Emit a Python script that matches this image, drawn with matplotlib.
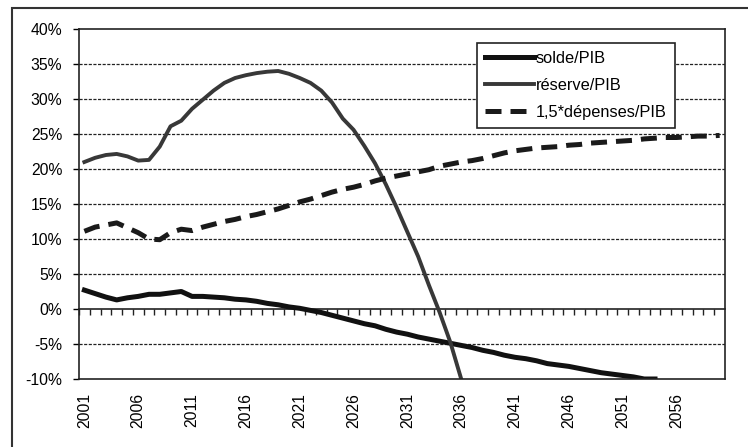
import matplotlib
matplotlib.use('Agg')
import matplotlib.pyplot as plt
from matplotlib.patches import Rectangle

plt.rcParams['font.family'] = ['Liberation Sans', 'DejaVu Sans']

# annees et series (en % du PIB)
annees_solde = list(range(2001, 2055))
solde = [2.7, 2.2, 1.7, 1.3, 1.6, 1.8, 2.1, 2.1, 2.3, 2.5,
         1.8, 1.8, 1.7, 1.6, 1.4, 1.3, 1.1, 0.8, 0.6, 0.3,
         0.1, -0.2, -0.5, -0.9, -1.3, -1.7, -2.1, -2.4, -2.9, -3.3,
         -3.6, -4.0, -4.3, -4.6, -4.9, -5.2, -5.5, -5.9, -6.2, -6.6,
         -6.9, -7.1, -7.4, -7.8, -8.0, -8.2, -8.5, -8.8, -9.1, -9.3,
         -9.5, -9.7, -10.0, -10.0]

annees_reserve = list(range(2001, 2037))
reserve = [21.0, 21.6, 22.0, 22.15, 21.8, 21.2, 21.3, 23.2, 26.1, 26.9,
           28.6, 29.9, 31.2, 32.3, 33.0, 33.4, 33.7, 33.9, 34.0, 33.6,
           33.0, 32.3, 31.2, 29.5, 27.2, 25.6, 23.3, 20.8, 17.8, 14.5,
           11.0, 7.5, 3.4, -0.5, -4.8, -10.0]

annees_dep = list(range(2001, 2061))
depenses = [11.1, 11.7, 12.0, 12.3, 11.6, 10.9, 10.0, 9.9, 10.9, 11.4,
            11.2, 11.7, 12.1, 12.5, 12.8, 13.2, 13.5, 13.9, 14.3, 14.8,
            15.3, 15.7, 16.2, 16.7, 17.1, 17.4, 17.8, 18.3, 18.7, 19.0,
            19.3, 19.6, 19.9, 20.4, 20.7, 21.0, 21.2, 21.5, 21.9, 22.3,
            22.6, 22.8, 23.0, 23.1, 23.2, 23.4, 23.5, 23.7, 23.8, 23.9,
            24.0, 24.1, 24.3, 24.4, 24.5, 24.5, 24.6, 24.7, 24.7, 24.8]

annees_labels = list(range(2001, 2060, 5))
y_ticks = list(range(-10, 45, 5))

fig = plt.figure(figsize=(7.48, 4.47), dpi=100)
ax = fig.add_axes([79/748, 1-379/447, 646/748, 350/447])

# cadre exterieur (coupe a droite et en bas)
fig.patches.append(Rectangle((12/748, -0.2), 1.2, 1.2 - 8/447, transform=fig.transFigure,
                             fill=False, edgecolor='#333333', linewidth=1.5))

ax.plot(annees_solde, solde, color='#111111', linewidth=3.6, label='solde/PIB',
        solid_joinstyle='round')
ax.plot(annees_reserve, reserve, color='#383838', linewidth=2.8, label='réserve/PIB',
        solid_joinstyle='round')
ax.plot(annees_dep, depenses, color='#1a1a1a', linewidth=3.6, dashes=(3.2, 1.8),
        label='1,5*dépenses/PIB')

ax.set_xlim(2000.5, 2060.5)
ax.set_ylim(-10, 40)
ax.set_yticks(y_ticks)
ax.set_yticklabels([f'{v}%' for v in y_ticks], fontsize=11.3)
ax.set_xticks(annees_labels)
ax.set_xticklabels([str(a) for a in annees_labels], rotation=90, fontsize=11.3)
ax.tick_params(axis='x', length=0, pad=10)
ax.tick_params(axis='y', direction='out', length=4, width=1, pad=8)

for v in y_ticks[1:-1]:
    if v != 0:
        ax.axhline(v, color='#222222', linewidth=0.9, dashes=(2.5, 1.2), zorder=0.5)

for s in ax.spines.values():
    s.set_color('#222222')
    s.set_linewidth(1.2)

# axe des categories a 0 %
sec = ax.secondary_xaxis(0.2)
sec.set_xticks([a + 0.5 for a in range(2000, 2060)])
sec.set_xticklabels([])
sec.tick_params(direction='out', length=4, width=1, color='#222222')
sec.spines['bottom'].set_color('#222222')
sec.spines['bottom'].set_linewidth(1.2)

leg = ax.legend(loc='upper left', bbox_to_anchor=((477-79)/646, (379-43)/350),
                borderaxespad=0, fontsize=11.8, handlelength=3.0, handletextpad=0.1,
                labelspacing=0.72, fancybox=False, framealpha=1, edgecolor='#222222',
                borderpad=0.5)
leg.get_frame().set_linewidth(1.2)

fig.savefig('out.png', dpi=100)
